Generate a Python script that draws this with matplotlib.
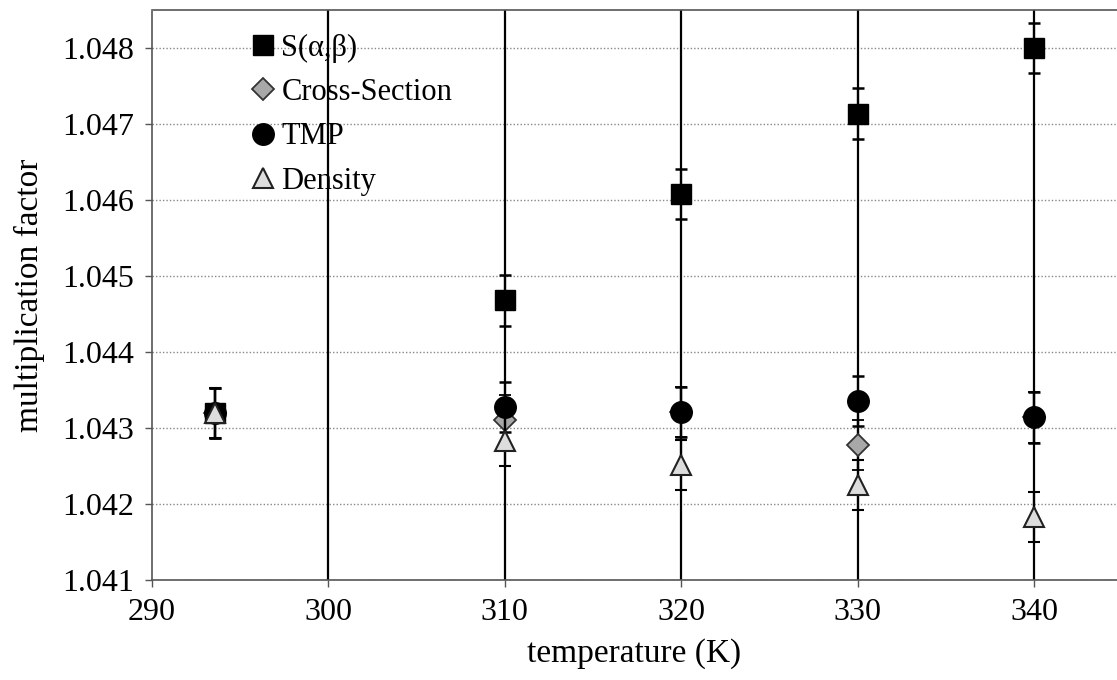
import matplotlib
matplotlib.use("Agg")
import matplotlib.pyplot as plt

# Data
temp_sab = [293.6, 310, 320, 330, 340]
k_sab = [1.0432, 1.04468, 1.04608, 1.04714, 1.04800]
temp_xs = [293.6, 310, 320, 330, 340]
k_xs = [1.0432, 1.04310, 1.04321, 1.04278, 1.04314]
temp_tmp = [293.6, 310, 320, 330, 340]
k_tmp = [1.0432, 1.04328, 1.04321, 1.04336, 1.04314]
temp_den = [293.6, 310, 320, 330, 340]
k_den = [1.0432, 1.04283, 1.04251, 1.04225, 1.04183]
err = 0.00033

xticks = [290, 300, 310, 320, 330, 340]
yticks = [1.041, 1.042, 1.043, 1.044, 1.045, 1.046, 1.047, 1.048]

plt.rcParams['font.family'] = ['Liberation Serif', 'DejaVu Serif']

fig = plt.figure(figsize=(11.17, 6.8), dpi=100)
ax = fig.add_axes([0.136, 0.147, 0.864, 0.838])

# grid
for xv in xticks[1:]:
    ax.axvline(xv, color='black', lw=1.6, zorder=1)
for yv in yticks:
    ax.axhline(yv, color='#888888', lw=1.0, ls=(0, (1, 1.5)), zorder=0.5)

common = dict(yerr=err, capsize=4.5, elinewidth=1.6, capthick=1.8, ecolor='black', ls='none')
ax.errorbar(temp_sab, k_sab, marker='s', ms=15, mfc='black', mec='black', label='S(α,β)', zorder=3, **common)
ax.errorbar(temp_xs, k_xs, marker='D', ms=11, mfc='#a8a8a8', mec='#333333', mew=1.3, label='Cross-Section', zorder=4, **common)
ax.errorbar(temp_tmp, k_tmp, marker='o', ms=15.5, mfc='black', mec='black', label='TMP', zorder=5, **common)
ax.errorbar(temp_den, k_den, marker='^', ms=15, mfc='#dddddd', mec='#222222', mew=1.5, label='Density', zorder=6, **common)

ax.set_xlim(290, 344.7)
ax.set_ylim(1.041, 1.0485)
ax.set_xticks(xticks)
ax.set_yticks(yticks)
ax.set_xticklabels([str(v) for v in xticks])
ax.set_yticklabels([f"{v:.3f}" for v in yticks])
ax.tick_params(axis='both', labelsize=23, length=5, width=1, color='#555555', direction='out')
ax.tick_params(axis='x', pad=8)
ax.tick_params(axis='y', pad=8)

for s in ['left', 'top', 'bottom']:
    ax.spines[s].set_linestyle((0, (1, 1)))
    ax.spines[s].set_color('#555555')
    ax.spines[s].set_linewidth(1.2)
ax.spines['right'].set_visible(False)

ax.set_xlabel('temperature (K)', fontsize=24, labelpad=8)
ax.set_ylabel('multiplication factor', fontsize=24, labelpad=12)

handles, labels = ax.get_legend_handles_labels()
handles = [h[0] for h in handles]
leg = ax.legend(handles, labels, loc='upper left', bbox_to_anchor=(0.093, 0.98), frameon=False,
                fontsize=22, handlelength=0.6, handletextpad=0.3, labelspacing=0.5,
                markerscale=1.0, borderaxespad=0)

fig.savefig('out.png', dpi=100)
